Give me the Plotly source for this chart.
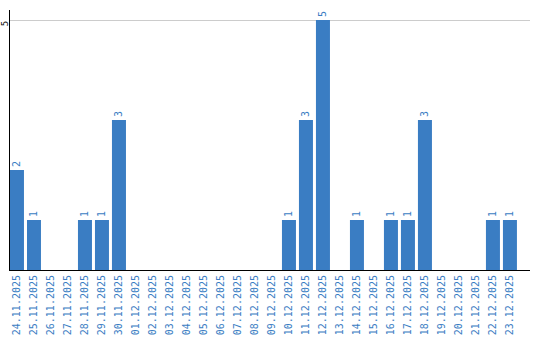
import plotly.graph_objects as go

dates = ["24.11.2025","25.11.2025","26.11.2025","27.11.2025","28.11.2025","29.11.2025","30.11.2025",
         "01.12.2025","02.12.2025","03.12.2025","04.12.2025","05.12.2025","06.12.2025","07.12.2025",
         "08.12.2025","09.12.2025","10.12.2025","11.12.2025","12.12.2025","13.12.2025","14.12.2025",
         "15.12.2025","16.12.2025","17.12.2025","18.12.2025","19.12.2025","20.12.2025","21.12.2025",
         "22.12.2025","23.12.2025"]
counts = [2,1,0,0,1,1,3, 0,0,0,0,0,0,0, 0,0,1,3,5,0,1, 0,1,1,3,0,0,0, 1,1]

blue = "#3a7dc3"
labels = [str(v) if v > 0 else "" for v in counts]
font = "DejaVu Sans Mono, monospace"

fig = go.Figure(go.Bar(
    x=list(range(len(dates))), y=counts, marker_color=blue, marker_line_width=0,
    text=labels, textposition="outside", textangle=-90,
    textfont=dict(family=font, size=10, color=blue),
    cliponaxis=False,
))
fig.update_layout(
    width=540, height=340, margin=dict(l=10, r=10, t=10, b=70),
    plot_bgcolor="white", paper_bgcolor="white", bargap=0.176, showlegend=False,
    xaxis=dict(range=[-0.41, 30.18], tickmode="array", tickvals=list(range(len(dates))),
               ticktext=dates, tickangle=-90, showgrid=False, showline=True, linecolor="black",
               linewidth=1, ticks="", automargin=False,
               tickfont=dict(family=font, size=10, color=blue)),
    yaxis=dict(range=[0, 5.2], tickmode="array", tickvals=[5], ticktext=["5"], tickangle=-90,
               showgrid=True, gridcolor="#cccccc", gridwidth=1, showline=True, linecolor="black",
               linewidth=1, ticks="", zeroline=False, automargin=False, ticklabelshift=5,
               ticklabelstandoff=-3,
               tickfont=dict(family=font, size=9, color="black")),
)
fig.write_html("out.html")
